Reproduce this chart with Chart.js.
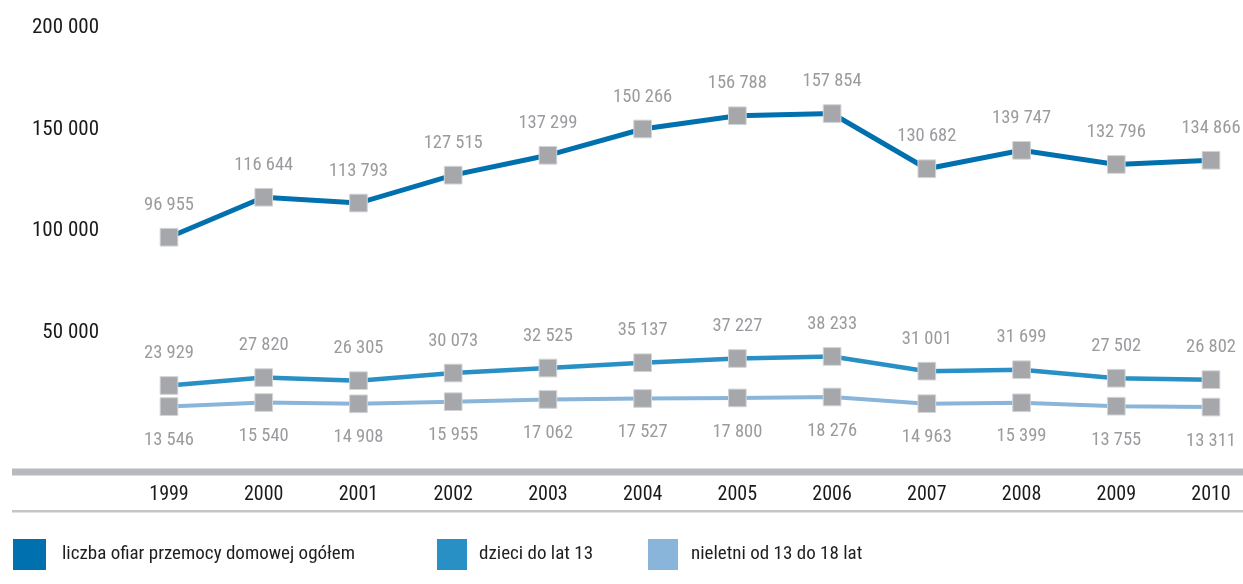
<!DOCTYPE html>
<html>
<head>
<meta charset="utf-8">
<script src="https://cdn.jsdelivr.net/npm/chart.js@4"></script>
<style>
html,body{margin:0;padding:0;background:#fff;}
#wrap{width:1243px;height:584px;position:relative;}
</style>
</head>
<body>
<div id="wrap"><canvas id="c" width="1243" height="584"></canvas></div>
<script>
const years = ['1999','2000','2001','2002','2003','2004','2005','2006','2007','2008','2009','2010'];
const totalVictims = [96955,116644,113793,127515,137299,150266,156788,157854,130682,139747,132796,134866];
const childrenUnder13 = [23929,27820,26305,30073,32525,35137,37227,38233,31001,31699,27502,26802];
const minors13to18 = [13546,15540,14908,15955,17062,17527,17800,18276,14963,15399,13755,13311];
const yTickValues = [50000,100000,150000,200000];
const seriesNames = ['liczba ofiar przemocy domowej ogółem','dzieci do lat 13','nieletni od 13 do 18 lat'];

const FONT = '"Roboto Condensed", "DejaVu Sans Condensed", sans-serif';
const fmt = n => String(n).replace(/\B(?=(\d{3})+(?!\d))/g, ' ');

const lineColors = ['#0070ae','#2990c5','#8ab5da'];

const decorPlugin = {
  id: 'decor',
  beforeDatasetsDraw(chart) {
    const ctx = chart.ctx;
    ctx.save();
    ctx.fillStyle = '#b8b9bc';
    ctx.fillRect(12, 468.5, 1231, 7);
    ctx.fillStyle = '#c4c5c8';
    ctx.fillRect(12, 510, 1231, 2.5);
    ctx.restore();
  },
  afterDatasetsDraw(chart) {
    const ctx = chart.ctx;
    ctx.save();
    ctx.font = '18.5px ' + FONT;
    ctx.fillStyle = '#9a9b9e';
    ctx.textAlign = 'center';
    ctx.textBaseline = 'middle';
    chart.data.datasets.forEach((ds, i) => {
      const meta = chart.getDatasetMeta(i);
      meta.data.forEach((pt, j) => {
        const dy = ds.labelBelow ? 34 : -32;
        ctx.fillText(fmt(ds.data[j]), pt.x, pt.y + dy);
      });
    });
    // legend
    const boxes = [[13,33,62],[437,30,479],[648,30,691]];
    ctx.font = '19px ' + FONT;
    ctx.textAlign = 'left';
    seriesNames.forEach((name, i) => {
      const b = boxes[i];
      ctx.fillStyle = lineColors[i];
      ctx.fillRect(b[0], 539, b[1], 31);
      ctx.fillStyle = '#1f1f1f';
      ctx.fillText(name, b[2], 554);
    });
    ctx.restore();
  }
};

const mkDs = (label, data, color, w, below) => ({
  label, data,
  labelBelow: below,
  borderColor: color,
  backgroundColor: color,
  borderWidth: w,
  pointStyle: 'rect',
  pointRadius: 12.5,
  pointHoverRadius: 12.5,
  pointBackgroundColor: '#a6a7aa',
  pointBorderColor: '#d3d4d6',
  pointBorderWidth: 1,
  tension: 0,
  clip: false
});

new Chart(document.getElementById('c'), {
  type: 'line',
  data: {
    labels: years,
    datasets: [
      mkDs(seriesNames[0], totalVictims, lineColors[0], 5, false),
      mkDs(seriesNames[1], childrenUnder13, lineColors[1], 4.5, false),
      mkDs(seriesNames[2], minors13to18, lineColors[2], 4, true)
    ]
  },
  options: {
    responsive: false,
    animation: false,
    devicePixelRatio: 1,
    layout: { padding: { top: 28, left: 0, right: 32, bottom: 65 } },
    plugins: { legend: { display: false }, tooltip: { enabled: false } },
    scales: {
      x: {
        type: 'category',
        offset: false,
        grid: { display: false, drawTicks: false },
        border: { display: false },
        afterFit(scale) { scale.paddingLeft = 0; scale.paddingRight = 0; },
        ticks: { padding: 12, color: '#1a1a1a', font: { family: FONT, size: 20 }, maxRotation: 0, autoSkip: false }
      },
      y: {
        min: -18182,
        max: 200000,
        grid: { display: false, drawTicks: false },
        border: { display: false },
        afterBuildTicks(scale) { scale.ticks = yTickValues.map(v => ({ value: v })); },
        afterFit(scale) { scale.width = 169; scale.paddingTop = 0; scale.paddingBottom = 0; },
        ticks: { padding: 70, color: '#1a1a1a', font: { family: FONT, size: 21 }, callback: v => fmt(v) }
      }
    }
  },
  plugins: [decorPlugin]
});
</script>
</body>
</html>
